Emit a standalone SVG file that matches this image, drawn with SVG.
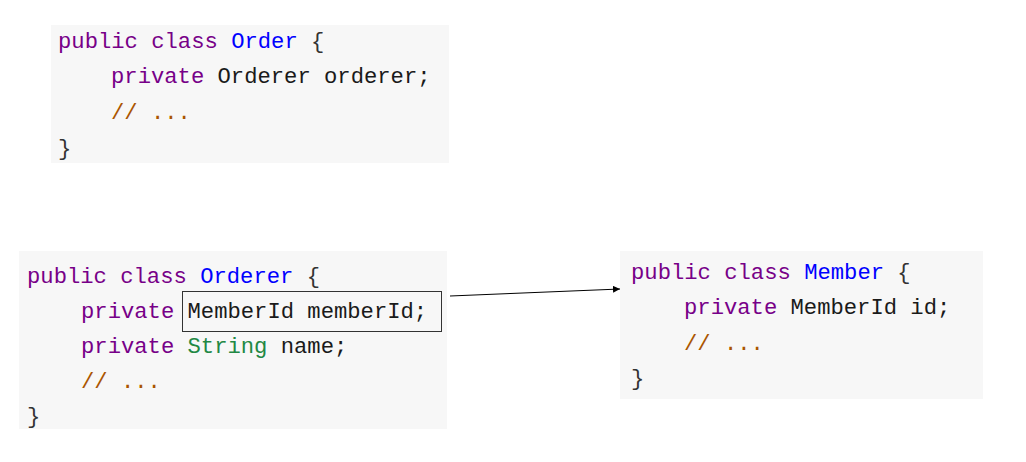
<svg xmlns="http://www.w3.org/2000/svg" width="1026" height="462" viewBox="0 0 1026 462">
<defs>
<style>
.bg{fill:#f7f7f7}
.code{font-family:"Liberation Mono","DejaVu Sans Mono",monospace;font-size:22.2px;fill:#1a1a1a;white-space:pre}
.kw{fill:#770088}
.cls{fill:#0000ff}
.str{fill:#228844}
.cm{fill:#aa5500}
.br{fill:#333333}
.hl{fill:none;stroke:#333333;stroke-width:1}
.conn{stroke:#000;stroke-width:1;fill:none}
</style>
<marker id="arr" viewBox="0 0 10 10" refX="10" refY="5" markerWidth="7" markerHeight="7" orient="auto" markerUnits="userSpaceOnUse">
<path d="M0,0 L10,5 L0,10 z" fill="#000"/>
</marker>
</defs>
<rect width="1026" height="462" fill="#fff"/>
<g id="order">
<rect class="bg" x="51" y="25" width="398" height="138"/>
<text class="code" x="58" y="48"><tspan class="kw">public</tspan> <tspan class="kw">class</tspan> <tspan class="cls">Order</tspan> <tspan class="br">{</tspan></text>
<text class="code" x="111" y="83"><tspan class="kw">private</tspan> Orderer orderer;</text>
<text class="code cm" x="111" y="119">// ...</text>
<text class="code br" x="58" y="155">}</text>
</g>
<g id="orderer">
<rect class="bg" x="19" y="251" width="428" height="178"/>
<text class="code" x="27" y="283"><tspan class="kw">public</tspan> <tspan class="kw">class</tspan> <tspan class="cls">Orderer</tspan> <tspan class="br">{</tspan></text>
<text class="code" x="81" y="318"><tspan class="kw">private</tspan> MemberId memberId;</text>
<rect class="hl" x="182.5" y="291.5" width="259" height="40"/>
<text class="code" x="81" y="353"><tspan class="kw">private</tspan> <tspan class="str">String</tspan> name;</text>
<text class="code cm" x="81" y="388">// ...</text>
<text class="code br" x="27" y="423">}</text>
</g>
<g id="member">
<rect class="bg" x="620" y="251" width="363" height="148"/>
<text class="code" x="631" y="279"><tspan class="kw">public</tspan> <tspan class="kw">class</tspan> <tspan class="cls">Member</tspan> <tspan class="br">{</tspan></text>
<text class="code" x="684" y="314"><tspan class="kw">private</tspan> MemberId id;</text>
<text class="code cm" x="684" y="350">// ...</text>
<text class="code br" x="631" y="385">}</text>
</g>
<g id="connectors">
<line class="conn" x1="450" y1="296" x2="620" y2="289" marker-end="url(#arr)"/>
</g>
</svg>
